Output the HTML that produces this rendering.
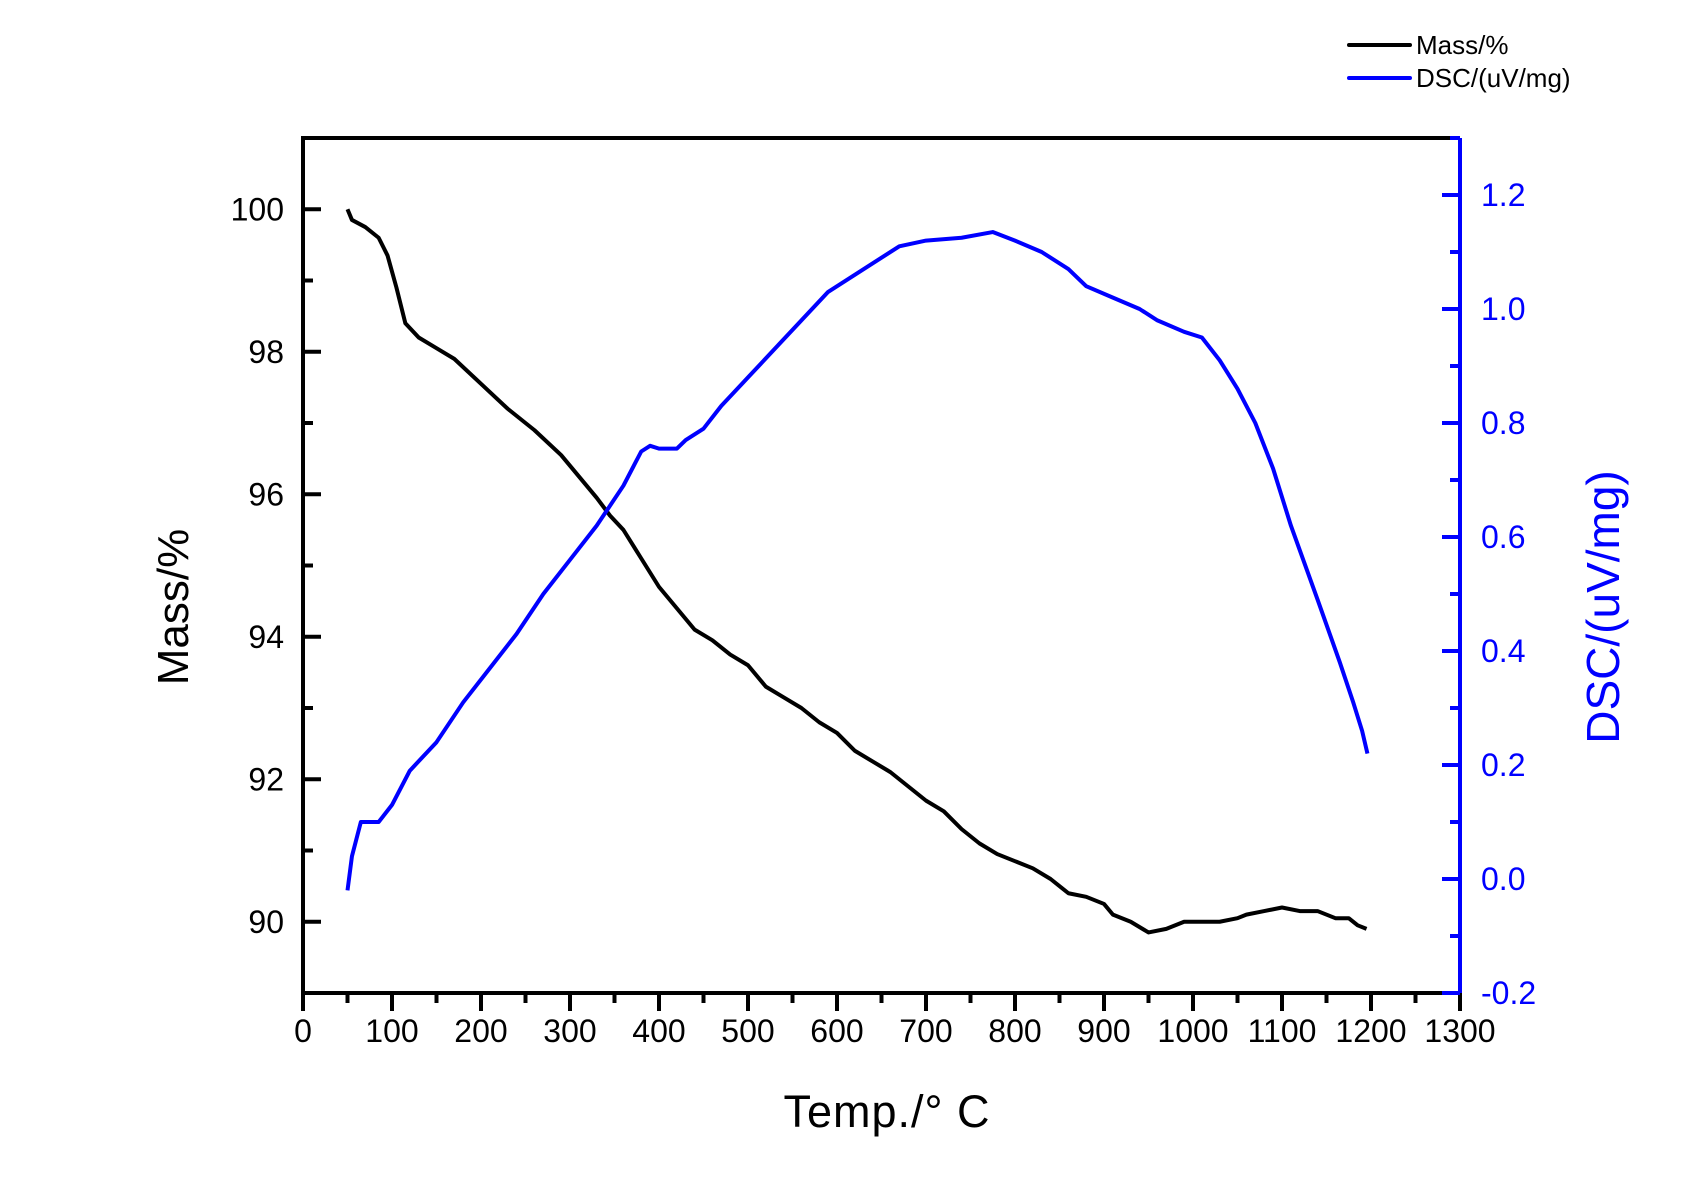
<!DOCTYPE html>
<html><head><meta charset="utf-8"><style>
html,body{margin:0;padding:0;background:#fff;}
svg{display:block;font-family:"Liberation Sans",Arial,sans-serif;}
</style></head><body>
<svg id="chart" width="1695" height="1191" viewBox="0 0 1695 1191" xmlns="http://www.w3.org/2000/svg">
<rect width="1695" height="1191" fill="#fff"/>
<g id="axes"></g>
<g id="series"></g>
<g id="legend">
  <line x1="1349" y1="45" x2="1410" y2="45" stroke="#000" stroke-width="4" stroke-linecap="round"/>
  <text x="1416" y="54" font-size="26">Mass/%</text>
  <line x1="1349" y1="78" x2="1410" y2="78" stroke="#00f" stroke-width="4" stroke-linecap="round"/>
  <text x="1416" y="87" font-size="26">DSC/(uV/mg)</text>
</g>
<text x="887" y="1127" font-size="45" letter-spacing="1" text-anchor="middle">Temp./°  C</text>
<text transform="translate(188,607) rotate(-90)" font-size="44" text-anchor="middle">Mass/%</text>
<text transform="translate(1619,607) rotate(-90)" font-size="46" text-anchor="middle" fill="#00f">DSC/(uV/mg)</text>
</svg>
<script>
const xTicks = [0,100,200,300,400,500,600,700,800,900,1000,1100,1200,1300];
const massTicks = [90,92,94,96,98,100];
const dscTicks = [-0.2,0.0,0.2,0.4,0.6,0.8,1.0,1.2];
const dscTickLabels = ["-0.2","0.0","0.2","0.4","0.6","0.8","1.0","1.2"];
const massTemps = [50,55,70,85,95,105,115,130,150,170,200,230,260,290,310,330,345,360,380,400,420,440,460,480,500,520,540,560,580,600,620,640,660,680,700,720,740,760,780,800,820,840,860,880,900,910,930,950,970,990,1010,1030,1050,1060,1080,1100,1120,1140,1160,1175,1185,1195];
const massValues = [100,99.85,99.75,99.6,99.35,98.9,98.4,98.2,98.05,97.9,97.55,97.2,96.9,96.55,96.25,95.95,95.7,95.5,95.1,94.7,94.4,94.1,93.95,93.75,93.6,93.3,93.15,93.0,92.8,92.65,92.4,92.25,92.1,91.9,91.7,91.55,91.3,91.1,90.95,90.85,90.75,90.6,90.4,90.35,90.25,90.1,90.0,89.85,89.9,90.0,90.0,90.0,90.05,90.1,90.15,90.2,90.15,90.15,90.05,90.05,89.95,89.9];
const dscTemps = [50,55,65,75,85,100,120,150,180,210,240,270,300,330,360,380,390,400,420,430,450,470,500,530,560,590,620,650,670,700,740,775,800,830,860,880,910,940,960,990,1010,1030,1050,1070,1090,1110,1140,1165,1180,1190,1196];
const dscValues = [-0.02,0.04,0.1,0.1,0.1,0.13,0.19,0.24,0.31,0.37,0.43,0.5,0.56,0.62,0.69,0.75,0.76,0.755,0.755,0.77,0.79,0.83,0.88,0.93,0.98,1.03,1.06,1.09,1.11,1.12,1.125,1.135,1.12,1.1,1.07,1.04,1.02,1.0,0.98,0.96,0.95,0.91,0.86,0.8,0.72,0.62,0.49,0.38,0.31,0.26,0.22];

const L=303,R=1460,T=138,B=993;
const xS=v=>L+(v-0)/1300*(R-L);
const yM=v=>B-(v-89)/12*(B-T);
const yD=v=>B-(v+0.2)/1.5*(B-T);
const NS="http://www.w3.org/2000/svg";
function mk(tag,attrs,parent){const e=document.createElementNS(NS,tag);for(const k in attrs)e.setAttribute(k,attrs[k]);parent.appendChild(e);return e;}
const ax=document.getElementById('axes');
const se=document.getElementById('series');

let f=mk('path',{d:`M${L},${B} L${L},${T} L${R},${T}`,fill:'none',stroke:'#000','stroke-width':4},ax);


let xb=mk('line',{x1:L,y1:B,x2:R,y2:B,stroke:'#000','stroke-width':4},ax);


let rb=mk('line',{x1:R,y1:T,x2:R,y2:B,stroke:'#00f','stroke-width':4},ax);



xTicks.forEach((v,i)=>{
  const x=xS(v);
  let t=mk('line',{x1:x,y1:B,x2:x,y2:B+18,stroke:'#000','stroke-width':4},ax);
  
  
  if(i<xTicks.length-1){
    const xm=xS(v+50);
    let m=mk('line',{x1:xm,y1:B,x2:xm,y2:B+10,stroke:'#000','stroke-width':4},ax);
    
    
  }
  let lb=mk('text',{x:x,y:B+49,'font-size':32,'text-anchor':'middle'},ax);
  lb.textContent=String(v);
  
  
});
massTicks.forEach(v=>{
  const y=yM(v);
  let t=mk('line',{x1:L,y1:y,x2:L+18,y2:y,stroke:'#000','stroke-width':4},ax);
  
  
  let lb=mk('text',{x:284,y:y+11,'font-size':32,'text-anchor':'end'},ax);
  lb.textContent=String(v);
  
  
});
[91,93,95,97,99].forEach(v=>{
  const y=yM(v);
  let m=mk('line',{x1:L,y1:y,x2:L+10,y2:y,stroke:'#000','stroke-width':4},ax);
  
  
});
dscTicks.forEach((v,i)=>{
  const y=yD(v);
  let t=mk('line',{x1:R-18,y1:y,x2:R,y2:y,stroke:'#00f','stroke-width':4},ax);
  
  
  if(v<1.25){
    const ym=yD(v+0.1);
    let m=mk('line',{x1:R-10,y1:ym,x2:R,y2:ym,stroke:'#00f','stroke-width':4},ax);
    
    
  }
  let lb=mk('text',{x:1481,y:y+11,'font-size':32,fill:'#00f'},ax);
  lb.textContent=dscTickLabels[i];
  
  
});
let mp=mk('polyline',{points:massTemps.map((t,i)=>xS(t)+','+yM(massValues[i])).join(' '),fill:'none',stroke:'#000','stroke-width':4,'stroke-linejoin':'round'},se);


let dp=mk('polyline',{points:dscTemps.map((t,i)=>xS(t)+','+yD(dscValues[i])).join(' '),fill:'none',stroke:'#00f','stroke-width':4,'stroke-linejoin':'round'},se);


</script>
</body></html>
